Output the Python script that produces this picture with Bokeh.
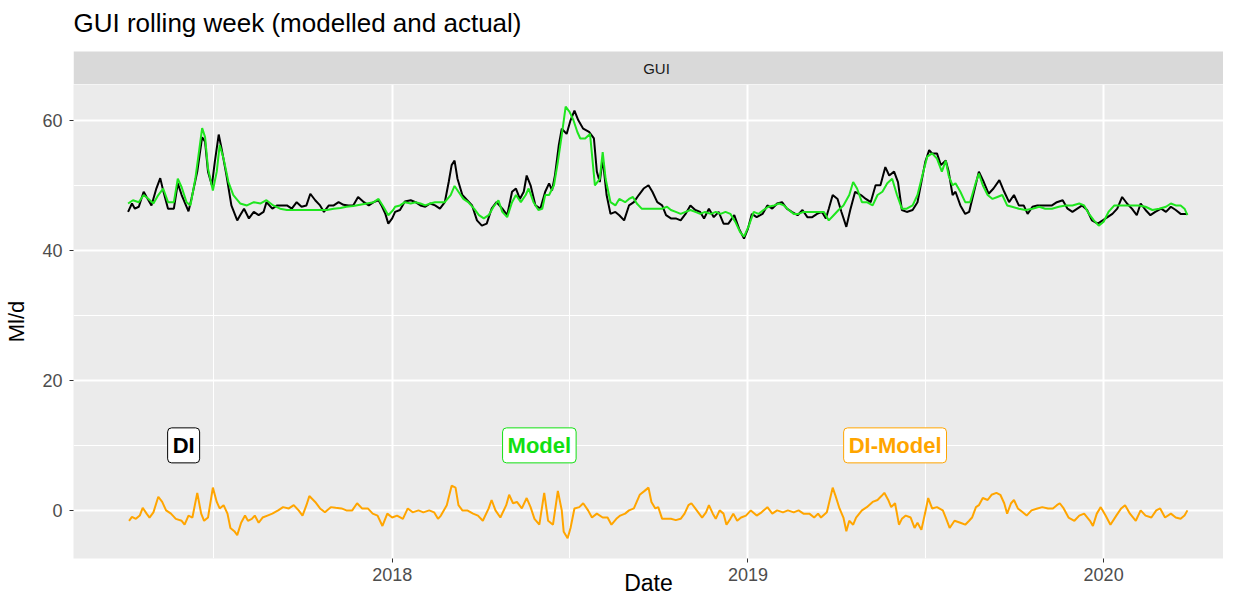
import pandas as pd
from bokeh.plotting import figure
from bokeh.layouts import column
from bokeh.models import (FixedTicker, Grid, Label, Range1d, DatetimeTickFormatter, BoxAnnotation)
from bokeh.embed import file_html
from bokeh.resources import INLINE

# ---------------- data ----------------
START = "2017-04-05"          # first day of the series; *_day arrays are days since START

di_day = [0, 4, 7, 11, 16, 19, 24, 29, 33, 36, 41, 47, 51, 55, 58, 62, 65, 71, 76, 79,
          82, 86, 89, 93, 96, 101, 106, 112, 115, 119, 124, 129, 134, 139, 142, 148, 153, 158, 163, 168,
          173, 178, 183, 187, 192, 197, 201, 206, 211, 216, 221, 226, 231, 236, 242, 247, 252, 257, 260, 264,
          267, 271,
          274, 279, 284, 290, 295, 300, 305, 310, 315, 320, 325, 329, 332, 335, 338, 343, 348, 353, 358, 363,
          368, 373, 378, 384, 389, 394, 398, 402, 406, 409, 413, 418, 423, 428, 432, 435, 438, 442, 445, 450,
          454, 458, 462, 467, 473, 478, 481, 484, 487, 491, 495, 500, 504, 509, 514, 519, 524, 529, 534, 538,
          543, 548, 552,
          557, 562, 567, 572, 577, 582, 587, 591, 596, 601, 606, 611, 616, 622, 627, 632, 636, 640, 645, 651,
          656, 661, 666, 671, 676, 681, 687, 692, 697, 702, 707, 712, 716, 719, 723, 728, 732, 737, 741, 746,
          752, 757, 762, 767, 772, 777, 781, 786, 790, 794, 799, 805, 810, 814, 818, 822, 825, 830, 834,
          839, 842, 846, 849, 854, 859, 863, 868, 873, 878, 883, 888, 894, 899, 904, 909, 914, 919, 923, 928,
          933, 938, 943, 948, 953, 959, 964, 969, 974, 979, 984, 989, 995, 1000, 1005, 1010, 1015, 1020, 1025, 1030,
          1035, 1039, 1044, 1049, 1054, 1060, 1065, 1070, 1075, 1080, 1087]
di_val = [45.9, 47.2, 46.4, 46.7, 49.0, 48.2, 46.9, 49.5, 51.1, 49.2, 46.4, 46.4, 50.3, 48.5, 47.4, 46.0, 47.9, 52.1, 57.4, 56.7,
          52.1, 50.0, 53.6, 57.8, 55.6, 51.5, 46.9, 44.6, 45.4, 46.4, 44.9, 45.9, 45.4, 45.9, 47.4, 46.4, 46.9, 46.9, 46.9, 46.4,
          47.4, 46.7, 46.9, 48.7, 47.7, 46.9, 45.9, 46.9, 46.9, 47.4, 47.0, 46.9, 46.9, 48.2, 47.4, 46.9, 47.4, 47.7, 46.9, 45.6,
          44.1, 44.9,
          45.9, 46.2, 47.5, 47.7, 47.4, 46.9, 46.7, 47.2, 46.9, 46.4, 47.4, 50.5, 53.1, 53.8, 51.0, 48.5, 47.7, 46.9, 44.6, 43.8,
          44.1, 46.4, 47.4, 46.4, 45.4, 49.0, 49.5, 47.9, 49.0, 51.5, 50.0, 46.9, 46.4, 49.0, 50.3, 49.2, 51.5, 56.2, 58.7, 57.9,
          60.0, 61.5, 60.0, 58.7, 58.2, 57.2, 52.1, 50.5, 54.1, 48.5, 45.6, 45.9, 45.4, 44.6, 46.9, 47.4, 48.5, 49.5, 50.0, 49.0,
          47.4, 46.9, 45.4,
          44.9, 44.9, 44.6, 45.6, 46.9, 46.2, 45.9, 44.9, 46.4, 45.1, 45.9, 44.1, 44.1, 45.4, 43.3, 41.8, 43.3, 45.6, 45.1, 45.6,
          46.9, 46.4, 47.2, 47.4, 46.4, 45.9, 45.4, 46.2, 45.1, 45.1, 45.6, 45.9, 44.9, 46.4, 48.5, 47.9, 45.9, 43.6, 46.2, 49.0,
          48.5, 47.9, 47.4, 50.0, 50.0, 52.8, 51.5, 52.1, 50.5, 46.2, 45.9, 46.2, 47.4, 50.5, 53.6, 55.4, 54.9, 54.9, 53.1,
          53.8, 52.1, 48.5, 49.0, 46.9, 45.6, 45.9, 49.0, 52.1, 50.5, 48.7, 49.5, 50.8, 49.0, 47.4, 48.5, 46.9, 46.9, 45.6, 46.7,
          46.9, 46.9, 46.9, 46.9, 47.4, 47.7, 46.4, 45.9, 46.4, 46.9, 46.2, 44.6, 44.1, 44.6, 45.1, 45.6, 46.4, 48.2, 47.2, 46.4,
          45.4, 47.2, 46.2, 45.4, 45.9, 46.4, 45.9, 46.7, 46.2, 45.6, 45.6]

model_day = [0, 5, 11, 16, 21, 26, 31, 36, 41, 47, 51, 55, 60, 64, 69, 76, 79, 82, 87, 91,
             94, 98, 103, 108, 115, 122, 129, 136, 142, 149, 156, 163, 170, 177, 183, 190, 197, 204, 211, 218,
             224, 231, 238, 245, 252, 257, 262, 267, 272,
             274, 279, 284, 290, 295, 300, 305, 310, 315, 320, 325, 331, 335, 339, 344, 349, 355, 360, 365, 370,
             375, 380, 384, 389, 394, 398, 403, 408, 411, 416, 421, 425, 428, 432, 437, 441, 445, 449, 453, 457,
             461, 464, 469, 474, 479, 484, 487, 490, 495, 500, 504, 510, 514, 518, 522, 527, 534, 541, 548, 553,
             557, 562, 567, 572, 577, 582, 587, 592, 598, 603, 608, 613, 618, 623, 628, 632, 637, 642, 647, 652,
             657, 663, 668, 673, 678, 683, 688, 693, 699, 704, 709, 714, 719, 724, 729, 734, 740, 744, 748, 753,
             758, 764, 769, 774, 779, 784, 789, 794, 799, 805, 810, 815, 820, 825, 830, 835,
             839, 842, 846, 849, 854, 859, 864, 870, 873, 877, 882, 887, 892, 897, 902, 907, 914, 921, 928, 935,
             941, 948, 955, 962, 969, 976, 981, 986, 991, 996, 1001, 1006, 1012, 1017, 1024, 1030, 1037, 1044, 1051, 1058,
             1065, 1070, 1075, 1080, 1084, 1087]
model_val = [47.2, 47.7, 47.4, 48.5, 47.9, 47.2, 48.5, 49.5, 47.4, 47.4, 51.0, 49.7, 47.4, 46.9, 51.0, 58.8, 57.4, 52.6, 49.2, 52.1,
             56.2, 54.1, 50.5, 48.5, 47.2, 46.9, 47.4, 47.2, 47.7, 46.9, 46.4, 46.2, 46.2, 46.2, 46.2, 46.2, 46.2, 46.2, 46.4, 46.5,
             46.7, 46.8, 47.0, 47.2, 47.4, 47.9, 46.7, 45.4, 46.2,
             46.7, 46.9, 47.4, 47.2, 47.4, 47.2, 46.9, 47.2, 47.4, 47.4, 47.4, 48.5, 49.9, 49.0, 47.9, 47.4, 46.4, 45.4, 44.9, 45.4,
             46.7, 47.7, 45.9, 45.1, 47.4, 48.5, 47.4, 48.5, 49.5, 47.4, 46.2, 46.4, 48.5, 48.5, 50.0, 53.6, 57.7, 62.1, 61.3, 60.0,
             58.2, 57.2, 57.2, 57.9, 50.0, 51.0, 55.1, 51.0, 47.4, 46.9, 47.9, 47.4, 47.9, 48.2, 47.2, 46.4, 46.4, 46.4, 46.4, 46.7,
             46.2, 45.9, 45.6, 45.9, 46.2, 45.9, 45.6, 45.9, 45.6, 45.9, 45.6, 45.9, 45.6, 44.4, 42.8, 42.1, 43.8, 45.9, 45.6, 46.2,
             46.7, 46.9, 47.2, 46.9, 46.2, 45.6, 45.6, 45.9, 45.9, 45.9, 45.9, 45.9, 44.6, 45.4, 46.2, 46.9, 48.5, 50.5, 49.5, 47.4,
             47.4, 46.9, 48.5, 49.0, 50.3, 51.0, 48.5, 46.4, 46.4, 46.9, 48.5, 51.5, 54.4, 54.9, 54.1, 52.1,
             53.8, 51.5, 50.0, 50.3, 49.0, 47.4, 47.4, 50.5, 51.8, 50.0, 48.5, 47.9, 48.2, 48.5, 46.9, 46.7, 46.4, 46.2, 46.4, 46.7,
             46.4, 46.4, 46.7, 46.9, 46.9, 47.2, 46.9, 45.6, 44.6, 43.8, 44.4, 45.9, 46.9, 46.9, 46.9, 46.9, 46.9, 46.7, 46.2, 46.4,
             46.7, 47.2, 46.9, 46.9, 46.4, 45.4]

diff_day = [1, 4, 8, 12, 15, 19, 22, 26, 31, 35, 39, 44, 49, 55, 58, 62, 66, 71, 75, 78,
            82, 87, 91, 94, 98, 102, 105, 109, 112, 116, 120, 123, 127, 130, 134, 138, 143, 148, 154, 159,
            165, 170, 175, 179, 183, 186, 192, 197, 202, 208, 213, 219, 224, 230, 235, 240, 246, 251, 256, 261,
            266, 271, 276, 282, 287, 292, 298, 303, 309, 314, 318, 321, 327, 332, 336, 339, 343, 348, 354, 359,
            364, 370, 373, 377, 382, 388, 391, 395, 399, 404, 409, 413, 417, 422, 427, 431, 436, 441, 445, 447,
            451, 454, 458, 463, 467, 472, 476, 481, 487, 492, 496, 501, 505, 510, 514, 519, 525, 530, 534, 537,
            541, 544, 548, 554,
            557, 562, 567, 571, 575, 578, 582, 585, 589, 593, 596, 600, 603, 607, 611, 614, 618, 621, 625, 629,
            634, 639, 645, 650, 656, 661, 666, 672, 677, 683, 688, 693, 699, 704, 708, 711, 717, 720, 723, 726,
            730, 734, 737, 740, 744, 747, 753, 758, 764, 769, 773, 776, 780, 783, 787, 791, 794, 798, 803, 807,
            810, 814, 818, 821, 825, 830, 836, 839, 843, 848, 854, 859, 863, 866, 870, 873, 877, 882, 886, 891,
            895, 899, 902, 906, 909, 913, 918, 922, 927, 933, 938, 944, 949, 953, 956, 960, 965, 971, 976, 981,
            987, 990, 994, 998, 1003, 1008, 1014, 1019, 1023, 1028, 1034, 1039, 1044, 1050, 1055, 1059, 1064, 1070, 1075, 1080,
            1084, 1087]
diff_val = [-1.6, -1.0, -1.3, -0.8, 0.4, -0.5, -1.1, -0.3, 2.1, 1.3, 0.0, -0.5, -1.3, -1.6, -2.2, -0.8, -1.1, 2.7, -0.5, -1.6,
            -1.1, 3.5, 1.3, 0.3, 0.8, -0.5, -2.7, -3.2, -3.8, -1.9, -0.8, -1.6, -1.3, -0.8, -1.9, -1.1, -0.8, -0.5, 0.0, 0.5,
            0.3, 0.8, 0.0, -0.8, 0.8, 2.2, 1.3, 0.3, -0.3, 0.5, 0.4, 0.3, 0.0, 0.0, 1.1, 0.3, 0.3, -0.5, -0.8, -2.4,
            -0.5, -1.1, -0.8, -1.3, 0.3, -0.3, 0.0, -0.3, 0.0, -0.3, -1.3, -0.8, 0.8, 3.8, 3.5, 0.8, 0.0, 0.0, -0.5, -0.8,
            -1.6, 0.3, 1.6, 0.0, -1.1, 0.8, 2.4, 1.1, 1.3, 0.3, 1.9, 0.5, -1.3, -2.2, 2.7, -1.6, -2.2, 3.0, 0.0, -3.3,
            -4.3, -2.7, 0.3, 0.5, 1.1, 0.0, -1.1, -0.5, -1.1, -1.1, -2.2, -1.3, -0.8, -0.5, 0.0, 0.3, 2.4, 3.0, 3.5, 1.3,
            0.3, 0.5, -1.3, -1.3,
            -1.3, -1.5, -1.3, -0.5, 0.8, 1.1, 0.3, -0.3, -1.1, -0.3, 0.8, -0.5, -1.3, 0.0, -0.5, -2.2, -1.3, -0.5, -1.6, -1.1,
            -0.8, 0.0, -0.8, -0.3, 0.5, -0.5, 0.0, -0.3, 0.0, -0.3, 0.0, -0.5, -0.5, -1.1, -0.5, -1.1, -0.3, 1.6, 3.5, 2.2,
            0.3, -1.1, -3.2, -1.6, -2.2, -1.1, 0.0, 0.5, 1.3, 1.6, 2.2, 2.7, 1.6, 0.5, 1.1, -2.2, -1.3, -0.8, -1.1, -2.7,
            -1.9, -3.0, -0.3, 1.9, 0.3, 0.5, 0.0, -1.1, -2.7, -1.6, -1.9, -2.2, -1.6, -1.1, 0.5, 0.8, 1.9, 1.6, 2.4, 2.7,
            2.4, 1.1, -0.5, 1.1, 1.6, 0.3, -0.3, -0.8, 0.0, 0.3, 0.5, 0.3, 0.3, 0.8, 1.1, 0.3, -1.1, -1.6, -0.8, -0.5,
            -1.6, -2.4, -0.5, 0.5, -0.8, -2.2, -0.8, 0.3, 0.8, -0.5, -1.6, 0.0, -0.8, -1.1, 0.0, 0.3, -1.1, -0.5, -1.1, -1.3,
            -0.8, 0.0]

tick_labels = ["2018", "2019", "2020"]
minor_x_breaks = ["2017-07-02", "2018-07-02", "2019-07-02"]
y_ticks = [0, 20, 40, 60]
y_minor = [10, 30, 50]

label_texts = ["DI", "Model", "DI-Model"]
label_dates = ["2017-06-01", "2018-06-01", "2019-06-01"]
label_y = [10, 10, 10]

facet_name = "GUI"
title_text = "GUI rolling week (modelled and actual)"
x_title = "Date"
y_title = "Ml/d"

# ---------------- layout / styling (pixels) ----------------
W = 1223
LEFT = 73
HEAD_H = 84            # header figure height: title band + facet strip
STRIP_H = 33           # facet strip height (bottom of header)
TITLE_MID = 22         # title text centre, px from the top
MAIN_H, BOTTOM = 514, 40
X_START, X_END = "2017-02-08", "2020-05-03"
REF_PANEL_W = 1166     # facet strip label centred on this width
Y_BOTTOM, Y_TOP = -7.4, 65.5

COL_DI = "#000000"
COL_MODEL = "#1ee61e"
COL_DIFF = "#ffa500"
label_colors = [COL_DI, "#12e012", COL_DIFF]
FONT = "Liberation Sans"


def ms(d):
    return pd.Timestamp(d).value / 1e6


t0 = pd.Timestamp(START)


def to_dt(days):
    return [t0 + pd.Timedelta(days=int(d)) for d in days]


x_start, x_end = ms(X_START), ms(X_END)
ms_per_px = (x_end - x_start) / (W - LEFT)
xr = Range1d(x_start, x_end)

# ---- header: title + facet strip (y in px measured upward from the header bottom) ----
head = figure(width=W, height=HEAD_H, x_range=xr, y_range=Range1d(0, HEAD_H),
              x_axis_location=None, y_axis_location=None,
              output_backend="svg", toolbar_location=None,
              min_border_left=LEFT, min_border_right=0, min_border_top=0, min_border_bottom=0)
head.grid.visible = False
head.background_fill_color = "white"
head.border_fill_color = "white"
head.outline_line_color = None
head.add_layout(BoxAnnotation(top=STRIP_H, fill_color="#d9d9d9", fill_alpha=1.0, line_color=None))
head.add_layout(Label(x=x_start, y=HEAD_H - TITLE_MID, text=title_text,
                      text_align="left", text_baseline="middle", text_font=FONT,
                      text_font_size="26px", text_color="#000000"))
head.add_layout(Label(x=x_start + REF_PANEL_W / 2 * ms_per_px, y=STRIP_H / 2, text=facet_name,
                      text_align="center", text_baseline="middle", text_font=FONT,
                      text_font_size="15px", text_color="#1a1a1a"))

# ---- main panel ----
p = figure(width=W, height=MAIN_H, x_axis_type="datetime",
           x_range=xr, y_range=Range1d(Y_BOTTOM, Y_TOP),
           output_backend="svg", toolbar_location=None,
           min_border_left=LEFT, min_border_right=0, min_border_top=0, min_border_bottom=BOTTOM)
p.background_fill_color = "#ebebeb"
p.border_fill_color = "white"
p.outline_line_color = None

major_x = [ms(f"{y}-01-01") for y in tick_labels]
p.xaxis.ticker = FixedTicker(ticks=major_x)
p.xgrid.ticker = FixedTicker(ticks=major_x)
p.yaxis.ticker = FixedTicker(ticks=y_ticks)
p.ygrid.ticker = FixedTicker(ticks=y_ticks)
for g in (p.xgrid, p.ygrid):
    g.grid_line_color = "white"
    g.grid_line_width = 2
p.add_layout(Grid(dimension=0, ticker=FixedTicker(ticks=[ms(d) for d in minor_x_breaks]),
                  grid_line_color="white", grid_line_width=1))
p.add_layout(Grid(dimension=1, ticker=FixedTicker(ticks=y_minor),
                  grid_line_color="white", grid_line_width=1))

p.xaxis.formatter = DatetimeTickFormatter(years="%Y", months="%Y", days="%Y", hours="%Y")

for ax in (p.xaxis, p.yaxis):
    ax.axis_line_color = None
    ax.major_tick_line_color = "#333333"
    ax.major_tick_out = 4
    ax.major_tick_in = 0
    ax.minor_tick_line_color = None
    ax.major_label_text_font = FONT
    ax.major_label_text_font_size = "18px"
    ax.major_label_text_color = "#4d4d4d"
    ax.axis_label_text_font = FONT
    ax.axis_label_text_font_style = "normal"
    ax.axis_label_text_color = "#000000"
p.xaxis.major_label_standoff = 5
p.yaxis.major_label_standoff = 7
p.xaxis.axis_label = x_title
p.xaxis.axis_label_text_font_size = "23px"
p.xaxis.axis_label_standoff = -14
p.yaxis.axis_label = y_title
p.yaxis.axis_label_text_font_size = "22px"
p.yaxis.axis_label_standoff = 10

p.line(to_dt(di_day), di_val, line_color=COL_DI, line_width=2)
p.line(to_dt(model_day), model_val, line_color=COL_MODEL, line_width=2)
p.line(to_dt(diff_day), diff_val, line_color=COL_DIFF, line_width=2)

for txt, d, yy, col in zip(label_texts, label_dates, label_y, label_colors):
    p.add_layout(Label(x=ms(d), y=yy, text=txt, text_align="center", text_baseline="middle",
                       text_font=FONT, text_font_size="22px", text_font_style="bold",
                       text_color=col, background_fill_color="white", background_fill_alpha=1.0,
                       border_line_color=col, border_line_width=1, padding=5, border_radius=4))

layout = column(head, p, spacing=0)
open("out.html", "w").write(file_html(layout, INLINE))
